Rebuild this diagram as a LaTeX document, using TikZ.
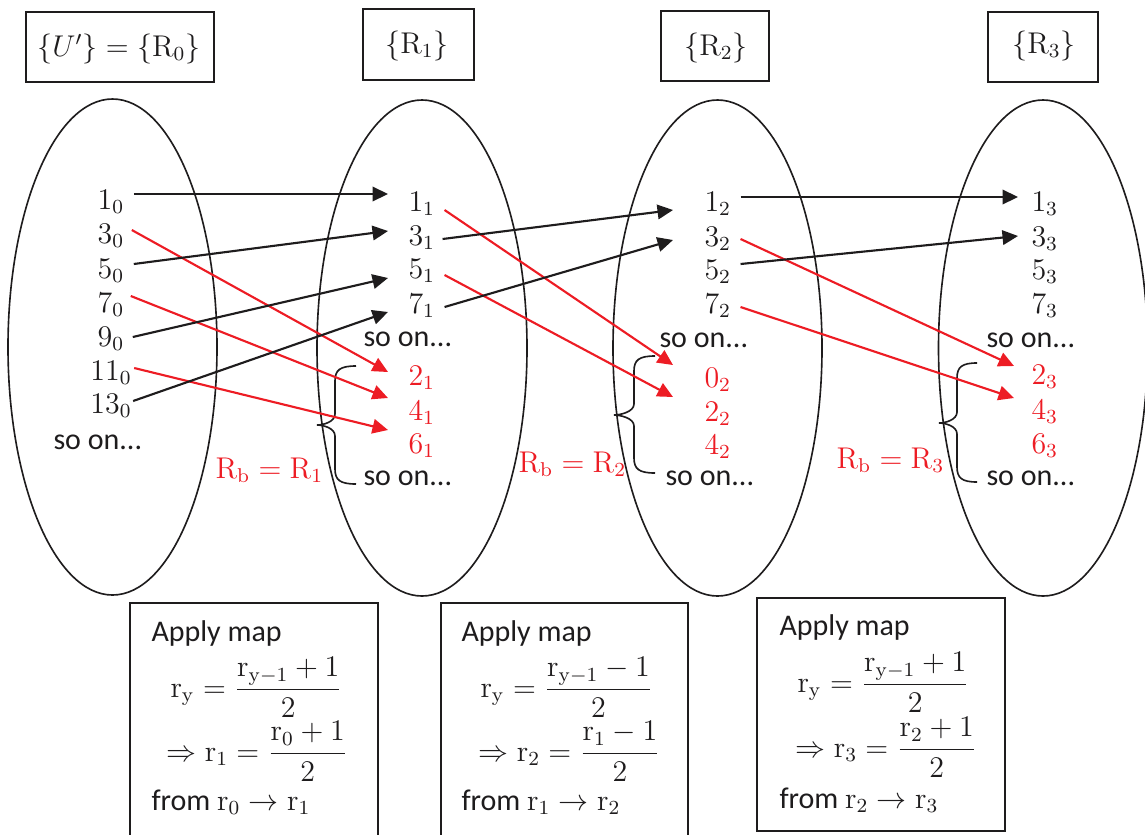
\documentclass[tikz,border=0pt]{standalone}
\usepackage{amsmath}
\usepackage[no-math]{fontspec}
\setmainfont{Carlito}
\usetikzlibrary{arrows.meta}
\definecolor{myred}{RGB}{237,28,36}
\definecolor{ink}{RGB}{30,28,29}
\newcommand{\mybrace}[6]{%
  \draw[brc] (#1,#4) .. controls (#2+5,#4) and (#2,#4+4) .. (#2,#4+15) -- (#2,#5-11)
    .. controls (#2,#5-3) and (#3+6,#5) .. (#3,#5)
    .. controls (#3+6,#5) and (#2,#5+3) .. (#2,#5+11) -- (#2,#6-15)
    .. controls (#2,#6-4) and (#2+5,#6) .. (#1,#6);}
\begin{document}
\begin{tikzpicture}[x=0.4pt,y=-0.4pt,
  ell/.style={line width=0.65pt, draw=ink},
  box/.style={line width=0.9pt, draw=ink},
  num/.style={inner sep=0pt, font=\large, text=ink},
  rnum/.style={inner sep=0pt, font=\large, text=myred},
  blk/.style={line width=0.85pt, draw=ink, -{Triangle[length=6.2pt,width=5.8pt]}},
  rarr/.style={line width=0.85pt, draw=myred, -{Triangle[length=6.2pt,width=5.8pt]}},
  brc/.style={line width=0.65pt, draw=ink}]
\useasboundingbox (0,0) rectangle (1145,834);
\clip (0,0) rectangle (1145,834);

% top boxes
\draw[box] (26,12) rectangle (214,82);
\draw[box] (363,9) rectangle (474,80);
\draw[box] (661,11) rectangle (769,81);
\draw[box] (988,12) rectangle (1098,82);
\node[num, anchor=base] (t0) at (119,56) {$\{U'\}=\{\mathrm{R}_0\}$};
\node[num, anchor=base] (t1) at (417,53) {$\{\mathrm{R}_1\}$};
\node[num, anchor=base] (t2) at (716,55) {$\{\mathrm{R}_2\}$};
\node[num, anchor=base] (t3) at (1044,53) {$\{\mathrm{R}_3\}$};

% ellipses
\draw[ell] (112.5,347) ellipse [x radius=104.5, y radius=248];
\draw[ell] (422,348) ellipse [x radius=105, y radius=248];
\draw[ell] (717.5,348) ellipse [x radius=104.5, y radius=248];
\draw[ell] (1043,348) ellipse [x radius=104.5, y radius=248];

% column 0
\node[num, anchor=base] (n10) at (111,209) {$1_0$};
\node[num, anchor=base] (n30) at (111,243) {$3_0$};
\node[num, anchor=base] (n50) at (111,278) {$5_0$};
\node[num, anchor=base] (n70) at (111,312) {$7_0$};
\node[num, anchor=base] (n90) at (111,346) {$9_0$};
\node[num, anchor=base] (n110) at (111,380) {$11_0$};
\node[num, anchor=base] (n130) at (111,413) {$13_0$};
\node[num, anchor=base west] (so0) at (53,449) {so on...};

% column 1
\node[num, anchor=base west] (n11) at (408,211) {$1_1$};
\node[num, anchor=base west] (n31) at (408,245) {$3_1$};
\node[num, anchor=base west] (n51) at (408,278) {$5_1$};
\node[num, anchor=base west] (n71) at (408,313) {$7_1$};
\node[num, anchor=base west] (so1a) at (363,346) {so on...};
\node[rnum, anchor=base west] (n21) at (408,385) {$2_1$};
\node[rnum, anchor=base west] (n41) at (408,420) {$4_1$};
\node[rnum, anchor=base west] (n61) at (408,453) {$6_1$};
\node[num, anchor=base west] (so1b) at (363,485) {so on...};

% column 2
\node[num, anchor=base west] (n12) at (704,211) {$1_2$};
\node[num, anchor=base west] (n32) at (704,246) {$3_2$};
\node[num, anchor=base west] (n52) at (704,279) {$5_2$};
\node[num, anchor=base west] (n72) at (704,313) {$7_2$};
\node[num, anchor=base west] (so2a) at (659,347) {so on...};
\node[rnum, anchor=base west] (n02) at (704,387) {$0_2$};
\node[rnum, anchor=base west] (n22) at (704,421) {$2_2$};
\node[rnum, anchor=base west] (n42) at (704,454) {$4_2$};
\node[num, anchor=base west] (so2b) at (665,485) {so on...};

% column 3
\node[num, anchor=base west] (n13) at (1031,211) {$1_3$};
\node[num, anchor=base west] (n33) at (1031,246) {$3_3$};
\node[num, anchor=base west] (n53) at (1031,279) {$5_3$};
\node[num, anchor=base west] (n73) at (1031,313) {$7_3$};
\node[num, anchor=base west] (so3a) at (986,347) {so on...};
\node[rnum, anchor=base west] (n23) at (1031,384) {$2_3$};
\node[rnum, anchor=base west] (n43) at (1031,419) {$4_3$};
\node[rnum, anchor=base west] (n63) at (1031,453) {$6_3$};
\node[num, anchor=base west] (so3b) at (986,485) {so on...};

% R_b labels
\node[rnum, anchor=base west] (rb1) at (215,478) {$\mathrm{R_b}=\mathrm{R_1}$};
\node[rnum, anchor=base west] (rb2) at (518,472) {$\mathrm{R_b}=\mathrm{R_2}$};
\node[rnum, anchor=base west] (rb3) at (836,468) {$\mathrm{R_b}=\mathrm{R_3}$};

% braces
\mybrace{356}{335}{317}{366}{425}{484}
\mybrace{655}{634}{614}{356}{415}{473}
\mybrace{977}{957}{939}{363}{423}{482}

% arrows column 0 -> 1
\draw[blk] ([shift={(9,-15)}]n10.base east) -- ([shift={(-20,-17)}]n11.base west);
\draw[rarr] ([shift={(7,-13)}]n30.base east) -- ([shift={(-20,-13)}]n21.base west);
\draw[blk] ([shift={(9,-14)}]n50.base east) -- ([shift={(-20,-14)}]n31.base west);
\draw[rarr] ([shift={(6,-16)}]n70.base east) -- ([shift={(-20,-22)}]n41.base west);
\draw[blk] ([shift={(8,-9)}]n90.base east) -- ([shift={(-20,0)}]n51.base west);
\draw[rarr] ([shift={(2,-12)}]n110.base east) -- ([shift={(-20,-23)}]n61.base west);
\draw[blk] ([shift={(1,-12)}]n130.base east) -- ([shift={(-20,-1)}]n71.base west);

% arrows column 1 -> 2
\draw[rarr] ([shift={(9,-1)}]n11.base east) -- ([shift={(-31,-22)}]n02.base west);
\draw[blk] ([shift={(7,-6)}]n31.base east) -- ([shift={(-31,-1)}]n12.base west);
\draw[rarr] ([shift={(9,-3)}]n51.base east) -- ([shift={(-31,-24)}]n22.base west);
\draw[blk] ([shift={(9,-6)}]n71.base east) -- ([shift={(-31,-6)}]n32.base west);

% arrows column 2 -> 3
\draw[blk] ([shift={(9,-14)}]n12.base east) -- ([shift={(-13,-14)}]n13.base west);
\draw[rarr] ([shift={(9,-7)}]n32.base east) -- ([shift={(-17,-18)}]n23.base west);
\draw[blk] ([shift={(9,-15)}]n52.base east) -- ([shift={(-13,-10)}]n33.base west);
\draw[rarr] ([shift={(9,-6)}]n72.base east) -- ([shift={(-17,-21)}]n43.base west);

% bottom boxes
\draw[box] (130,603) rectangle (378,860);
\draw[box] (441,603) rectangle (688,860);
\draw[box] (757,598) rectangle (1005,831);

\node[num, anchor=base west] (apA) at (151,641) {Apply map};
\node[num, anchor=base west] (eqA1) at (170,697) {$\mathrm{r_y}=\dfrac{\mathrm{r_{y-1}}+1}{2}$};
\node[num, anchor=base west] (eqA2) at (166,761) {$\Rightarrow\mathrm{r_1}=\dfrac{\mathrm{r_0}+1}{2}$};
\node[num, anchor=base west] (frA) at (151,810) {from $\mathrm{r_0}\rightarrow\mathrm{r_1}$};

\node[num, anchor=base west] (apB) at (461,641) {Apply map};
\node[num, anchor=base west] (eqB1) at (480,697) {$\mathrm{r_y}=\dfrac{\mathrm{r_{y-1}}-1}{2}$};
\node[num, anchor=base west] (eqB2) at (478,761) {$\Rightarrow\mathrm{r_2}=\dfrac{\mathrm{r_1}-1}{2}$};
\node[num, anchor=base west] (frB) at (461,810) {from $\mathrm{r_1}\rightarrow\mathrm{r_2}$};

\node[num, anchor=base west] (apC) at (779,635) {Apply map};
\node[num, anchor=base west] (eqC1) at (797,692) {$\mathrm{r_y}=\dfrac{\mathrm{r_{y-1}}+1}{2}$};
\node[num, anchor=base west] (eqC2) at (795,757) {$\Rightarrow\mathrm{r_3}=\dfrac{\mathrm{r_2}+1}{2}$};
\node[num, anchor=base west] (frC) at (779,808) {from $\mathrm{r_2}\rightarrow\mathrm{r_3}$};
\end{tikzpicture}
\end{document}
